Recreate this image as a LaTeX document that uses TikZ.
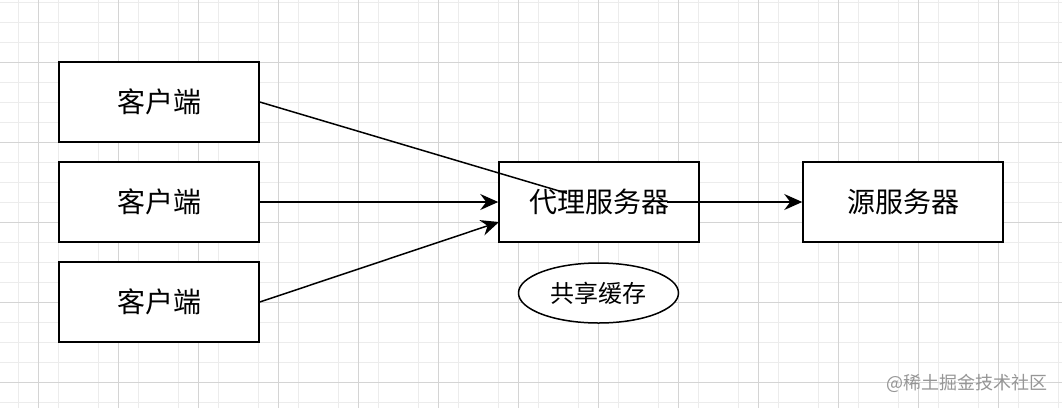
\documentclass[tikz,border=0pt]{standalone}
\usepackage{fontspec}
\newfontfamily\cjk{Noto Sans CJK SC}
\usetikzlibrary{arrows.meta,shapes.geometric}
\definecolor{gridminor}{RGB}{236,236,236}
\definecolor{gridmajor}{RGB}{212,212,212}
\definecolor{wmark}{RGB}{150,150,150}
\tikzset{
  box/.style={draw=black, line width=1.5pt, fill=white, minimum width=200pt, minimum height=80pt, inner sep=0pt, font=\cjk\fontsize{28}{28}\selectfont},
  oval/.style={draw=black, line width=1.5pt, fill=white, ellipse, minimum width=160pt, minimum height=60pt, inner sep=0pt, font=\cjk\fontsize{24}{24}\selectfont},
  link/.style={line width=1.5pt, draw=black},
  arr/.style={link, -{Stealth[length=18pt, width=16pt, inset=6pt]}},
}
\begin{document}
\begin{tikzpicture}[x=1pt,y=-1pt]
\useasboundingbox (0,0) rectangle (1062,408);
\fill[white] (0,0) rectangle (1062,408);
% grid
\foreach \x in {18,58,...,1062} \draw[gridminor, line width=0.8pt] (\x,0) -- (\x,408);
\foreach \y in {2,22,...,408} \draw[gridminor, line width=0.8pt] (0,\y) -- (1062,\y);
\foreach \x in {38,118,...,1062} \draw[gridmajor, line width=0.8pt] (\x,0) -- (\x,408);
\foreach \y in {62,142,...,408} \draw[gridmajor, line width=0.8pt] (0,\y) -- (1062,\y);
% nodes
\node[box] (c1) at (159,102) {客户端};
\node[box] (c2) at (159,202) {客户端};
\node[box] (c3) at (159,302) {客户端};
\node[box] (p) at (599,202) {};
\node[box] (s) at (903,202) {源服务器};
\node[oval] (cache) at (598.5,293) {共享缓存};
\coordinate (d1) at (567,193.3);
\coordinate (h1) at (667,202);
\coordinate (p2) at (499,222);
% connectors
\draw[link] (c1.east) -- (d1);
\draw[arr] (c2.east) -- (p.west);
\draw[arr] (c3.east) -- (p2);
\draw[arr] (h1) -- (s.west);
\node[font=\cjk\fontsize{28}{28}\selectfont, inner sep=0pt] (pt) at (p.center) {代理服务器};
% watermark
\node[font=\cjk\fontsize{18}{18}\selectfont, text=wmark, inner sep=0pt] (wm) at (967,383) {@稀土掘金技术社区};
\end{tikzpicture}
\end{document}
